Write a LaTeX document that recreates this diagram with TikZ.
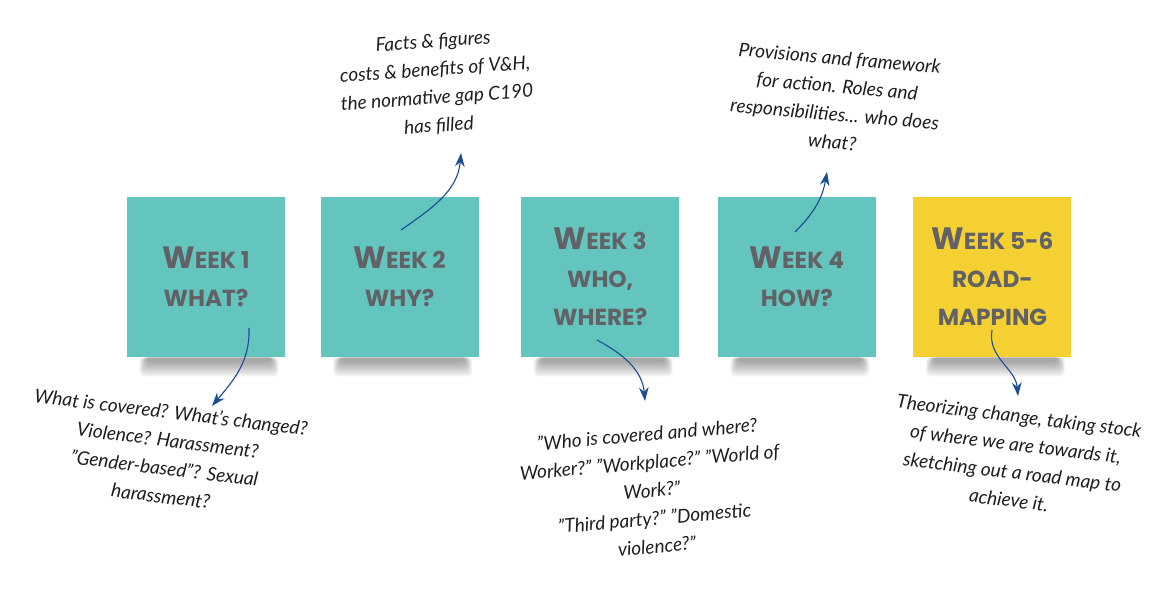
\documentclass[tikz,border=0pt]{standalone}
\usepackage{fontspec}
\setmainfont{Lato}
\newfontfamily\markerfont{Poppins}
\usetikzlibrary{positioning,arrows.meta,calc}
\definecolor{NoteTeal}{RGB}{100,196,190}
\definecolor{NoteYellow}{RGB}{245,208,50}
\definecolor{MarkerGray}{RGB}{98,98,102}
\definecolor{InkBlue}{RGB}{28,78,150}
\definecolor{InkBlack}{RGB}{30,30,30}
\newcommand{\initcap}[1]{{\fontsize{22}{27}\selectfont #1}}
\tikzset{
  flow/.style={-{Stealth[length=3.4mm,width=2.4mm]},line width=0.8pt,draw=InkBlue},
  stickynote/.style={fill=NoteTeal,minimum width=3.95cm,minimum height=4cm,
    align=center,text=MarkerGray,font=\markerfont\bfseries\fontsize{16.5}{27}\selectfont},
  yellownote/.style={stickynote,fill=NoteYellow},
  handnote/.style={align=center,text=InkBlack,font=\itshape\fontsize{13.5}{20}\selectfont}
}

\begin{document}
\begin{tikzpicture}[x=0.025cm,y=0.025cm]
  \useasboundingbox (0,0) rectangle (1170,-598);
  % the five weeks
  \node[stickynote] (wk1) at (206,-277) {\initcap{W}EEK 1\\WHAT?};
  \node[stickynote,right=0.875cm of wk1] (wk2) {\initcap{W}EEK 2\\WHY?};
  \node[stickynote,right=1.05cm of wk2] (wk3) {\initcap{W}EEK 3\\WHO,\\WHERE?};
  \node[stickynote,right=0.95cm of wk3] (wk4) {\initcap{W}EEK 4\\HOW?};
  \node[yellownote,right=0.925cm of wk4] (wk5) {\initcap{W}EEK 5-6\\ROAD-\\MAPPING};
  % soft shadows under the notes
  \foreach \n in {wk1,wk2,wk3,wk4,wk5}
    \foreach \i in {1,...,8}
      \fill[black,opacity=0.05,rounded corners=3pt]
        ($(\n.south west)+(12+\i,0)$) rectangle ($(\n.south east)+(-6-\i,-21+2*\i)$);
  % notes round them
  \node[handnote,rotate=-7] (cap1) at (166,-454)
    {What is covered? What's changed?\\Violence? Harassment?\\"Gender-based"? Sexual\\harassment?};
  \node[handnote,rotate=4] (cap2) at (436,-84)
    {Facts \& figures\\costs \& benefits of V\&H,\\the normative gap C190\\has filled};
  \node[handnote,rotate=5] (cap3) at (652,-490)
    {"Who is covered and where?\\Worker?" "Workplace?" "World of\\Work?"\\"Third party?" "Domestic\\violence?"};
  \node[handnote,rotate=-5] (cap4) at (836,-100)
    {Provisions and framework\\for action. Roles and\\responsibilities... who does\\what?};
  \node[handnote,rotate=-7] (cap5) at (1014,-458)
    {Theorizing change, taking stock\\of where we are towards it,\\sketching out a road map to\\achieve it.};
  % arrow ends
  \coordinate (s1) at (249,-328);
  \coordinate (t1) at (212,-406);
  \coordinate (s2) at (401,-230);
  \coordinate (t2) at (461,-153);
  \coordinate (s3) at (597,-340);
  \coordinate (t3) at (645,-401);
  \coordinate (s4) at (795,-232);
  \coordinate (t4) at (827,-172);
  \coordinate (s5) at (992,-330);
  \coordinate (t5) at (1018,-396);
  \draw[flow] (s1) to[out=-88,in=50] (t1);
  \draw[flow] (s2) to[out=35,in=-95] (t2);
  \draw[flow] (s3) to[out=-28,in=95] (t3);
  \draw[flow] (s4) to[out=45,in=-100] (t4);
  \draw[flow] (s5) to[out=-100,in=95] (t5);
\end{tikzpicture}
\end{document}
